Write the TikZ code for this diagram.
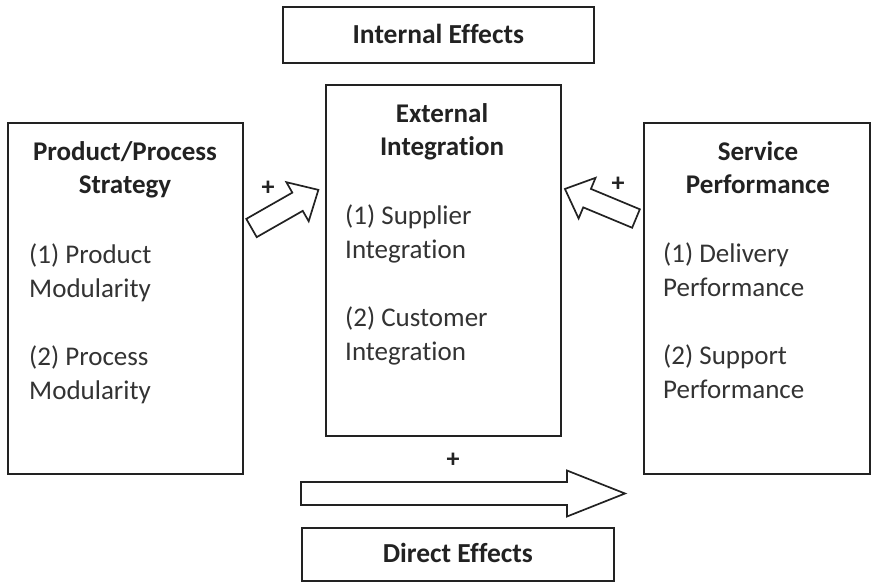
\documentclass[tikz,border=0pt]{standalone}
\usepackage{fontspec}
\setmainfont{Carlito}[Ligatures=CommonOff]
\definecolor{ink}{HTML}{222222}
\definecolor{txt}{HTML}{333333}
\begin{document}
\begin{tikzpicture}[x=1pt,y=-1pt,
  box/.style={draw=ink,line width=1.7pt,inner sep=0pt,anchor=north west},
  title/.style={font=\fontsize{27}{33.5}\selectfont\bfseries,text=ink,align=center,inner sep=0pt,anchor=north},
  items/.style={font=\fontsize{27}{34}\selectfont,text=txt,align=left,inner sep=0pt,anchor=north west},
  label/.style={font=\fontsize{27.5}{34}\selectfont\bfseries,text=ink,inner sep=0pt},
  plus/.style={font=\fontsize{26}{30}\selectfont\bfseries,text=ink,inner sep=0pt},
  blockarrow/.style={draw=ink,line width=1.7pt,line join=miter,fill=white}]
\useasboundingbox (0,0) rectangle (872,582);

% boxes
\node[box,minimum width=311pt,minimum height=56pt] (internal) at (282,6) {};
\node[box,minimum width=235pt,minimum height=351pt] (center) at (325,84) {};
\node[box,minimum width=235pt,minimum height=351pt] (left) at (7,122) {};
\node[box,minimum width=226pt,minimum height=351pt] (right) at (643,122) {};
\node[box,minimum width=312pt,minimum height=53pt] (direct) at (301,527) {};

% box labels
\node[label] (internaltxt) at ([yshift=1pt]internal.center) {Internal Effects};
\node[label] (directtxt) at ([yshift=1pt]direct.center) {Direct Effects};

\node[title] (lefttitle) at (125,141) {Product/Process\\Strategy};
\node[items] (leftitems) at (29,244) {(1) Product\\Modularity\\[34pt](2) Process\\Modularity};

\node[title] (centertitle) at (442,103) {External\\Integration};
\node[items] (centeritems) at (345,205) {(1) Supplier\\Integration\\[34pt](2) Customer\\Integration};

\node[title] (righttitle) at (758,141) {Service\\Performance};
\node[items] (rightitems) at (663,243) {(1) Delivery\\Performance\\[34pt](2) Support\\Performance};

% block arrows, each drawn along its own axis from the tail centre
\begin{scope}[shift={(251.5,228)},rotate=29.7]
  \draw[blockarrow] (0,-10.5) -- (53,-10.5) -- (53,-22.5) -- (77,0) -- (53,22.5) -- (53,10.5) -- (0,10.5) -- cycle;
\end{scope}
\begin{scope}[shift={(636,218.5)},rotate=157.4]
  \draw[blockarrow] (0,-10) -- (53,-10) -- (53,-22) -- (77,0) -- (53,22) -- (53,10) -- (0,10) -- cycle;
\end{scope}
\begin{scope}[shift={(301,493.5)}]
  \draw[blockarrow] (0,-11.5) -- (266,-11.5) -- (266,-23) -- (324,0) -- (266,23) -- (266,11.5) -- (0,11.5) -- cycle;
\end{scope}

% signs
\node[plus] (plusleft) at (268,188) {+};
\node[plus] (plusright) at (618,184) {+};
\node[plus] (plusdirect) at (453,460) {+};
\end{tikzpicture}
\end{document}
